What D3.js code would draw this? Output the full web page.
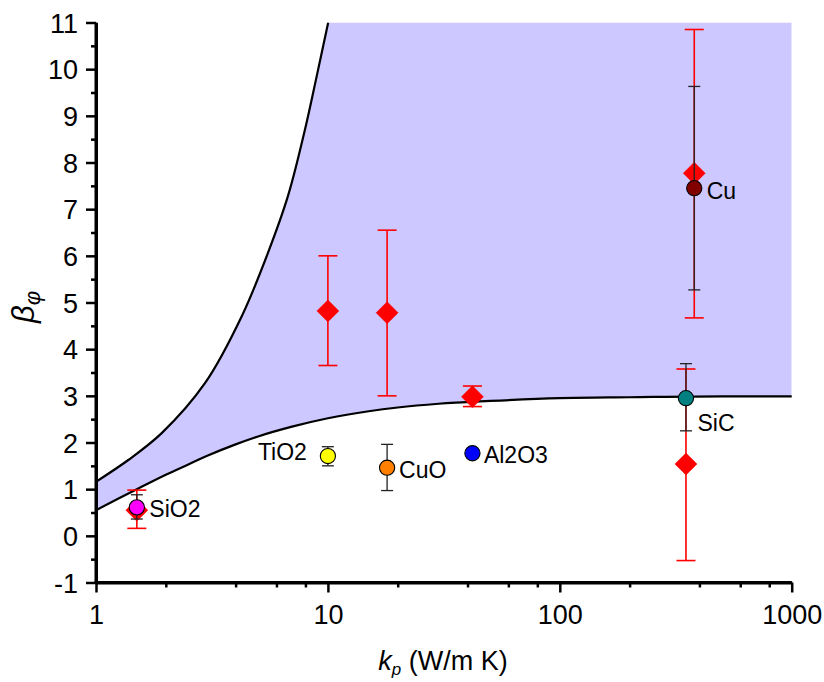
<!DOCTYPE html>
<html><head><meta charset="utf-8">
<script src="https://cdn.jsdelivr.net/npm/d3@7"></script>
<style>
body{margin:0;background:#fff}
svg{display:block}
text{font-family:"Liberation Sans",Arial,Helvetica,sans-serif;fill:#000}
</style>
</head><body>
<svg id="c" width="824" height="682"></svg>
<script>
// ---- data ----
const xTicks = [1, 10, 100, 1000];
const xTickLabels = ["1", "10", "100", "1000"];
const xMinor = [2,4,6,8,20,40,60,80,200,400,600,800];
const yTicks = [-1,0,1,2,3,4,5,6,7,8,9,10,11];
const yTickLabels = ["-1","0","1","2","3","4","5","6","7","8","9","10","11"];
const yMinor = [-0.5,0.5,1.5,2.5,3.5,4.5,5.5,6.5,7.5,8.5,9.5,10.5];

// lower bound curve
const lowerK = [1, 1.25, 1.5, 2, 2.5, 3, 4, 5, 7, 10, 15, 20, 30, 50, 100, 200, 500, 1000];
const lowerV = [0.55, 0.80, 1.00, 1.31, 1.53, 1.71, 1.96, 2.13, 2.34, 2.52, 2.67, 2.75, 2.83, 2.89, 2.95, 2.97, 2.99, 2.99];
// upper bound curve
const upperK = [1, 1.378, 1.92, 2.95, 4.246, 5.53, 6.744, 7.96, 8.94, 10.03];
const upperV = [1.16, 1.625, 2.20, 3.27, 4.70, 6.08, 7.30, 8.70, 9.84, 11.0];

// red diamonds with error bars
const redK  = [1.5, 10, 18, 42, 350, 380];
const redV  = [0.55, 4.82, 4.78, 2.98, 1.54, 7.77];
const redLo = [0.16, 3.65, 3.00, 2.77, -0.53, 4.67];
const redHi = [0.98, 6.00, 6.55, 3.21, 3.575, 10.85];

// materials (circles)
const matNames  = ["SiO2", "TiO2", "CuO", "Al2O3", "SiC", "Cu"];
const matK      = [1.5, 10, 18, 42, 350, 380];
const matV      = [0.61, 1.71, 1.46, 1.77, 2.95, 7.45];
const matLo     = [0.36, 1.50, 0.97, 1.69, 2.25, 5.27];
const matHi     = [0.88, 1.91, 1.96, 1.85, 3.69, 9.63];
const matColors = ["#ff00ff", "#ffff00", "#ff8000", "#0000ff", "#008080", "#800000"];

// label placement (style)
const labelPlace = [
  {dx: 12.5, dy: 9.5, anchor: "start"},
  {dx: -21, dy: 4, anchor: "end"},
  {dx: 12, dy: 10.5, anchor: "start"},
  {dx: 11.5, dy: 9.5, anchor: "start"},
  {dx: 11.5, dy: 32.5, anchor: "start"},
  {dx: 12.5, dy: 10.5, anchor: "start"}
];

// ---- chart ----
const svg = d3.select("#c");
const x = d3.scaleLog().domain([1, 1000]).range([96, 791.7]);
const y = d3.scaleLinear().domain([-1, 11]).range([582.5, 22.5]);

svg.append("defs").append("clipPath").attr("id","clip")
  .append("rect").attr("x",96).attr("y",22.5).attr("width",791.7-96).attr("height",560);

const lowerPts = lowerK.map((k,i)=>[x(k), y(lowerV[i])]);
const upperPts = upperK.map((k,i)=>[x(k), y(upperV[i])]);
const lowLine = d3.line().curve(d3.curveMonotoneX);
const upLine = d3.line().curve(d3.curveCatmullRom.alpha(0.5));

// shaded band
const upD = upLine(upperPts);
const loRev = lowerPts.slice().reverse();
const loD = d3.line().curve(d3.curveMonotoneX)(loRev).replace(/^M/, "L");
const bandD = upD + "L" + x(1000) + "," + y(11) + loD + "Z";
svg.append("path").attr("d", bandD).attr("fill", "#cdc8ff").attr("stroke","none")
  .attr("clip-path","url(#clip)");

svg.append("path").attr("d", upD).attr("fill","none").attr("stroke","#000").attr("stroke-width",2.2)
  .attr("clip-path","url(#clip)");
svg.append("path").attr("d", lowLine(lowerPts)).attr("fill","none").attr("stroke","#000").attr("stroke-width",2.2);

// axes
const tickFont = "27px";
const yAxis = d3.axisLeft(y).tickValues(yTicks).tickFormat((d,i)=>yTickLabels[i]).tickSize(10).tickSizeOuter(0).tickPadding(8);
const gy = svg.append("g").attr("transform","translate(96,0)").call(yAxis);
const yMin = d3.axisLeft(y).tickValues(yMinor).tickFormat("").tickSize(5).tickSizeOuter(0);
const gym = svg.append("g").attr("transform","translate(96,0)").call(yMin);

const xAxis = d3.axisBottom(x).tickValues(xTicks).tickFormat((d,i)=>xTickLabels[i]).tickSize(10).tickSizeOuter(0).tickPadding(12);
const gx = svg.append("g").attr("transform","translate(0,582.5)").call(xAxis);
const xMin = d3.axisBottom(x).tickValues(xMinor).tickFormat("").tickSize(5).tickSizeOuter(0);
const gxm = svg.append("g").attr("transform","translate(0,582.5)").call(xMin);

[gy, gym, gx, gxm].forEach(g=>{
  g.select(".domain").attr("stroke","#000").attr("stroke-width",3);
  g.selectAll(".tick line").attr("stroke","#000").attr("stroke-width",2.5);
  g.selectAll(".tick text").style("font-size", tickFont).attr("font-family",null);
});
gy.selectAll(".tick text").attr("dy","0.36em");
gx.selectAll(".tick text").attr("dy","0.72em");
gy.select(".domain").attr("d", `M0,${y(11)}V${y(-1)+1.5}`);
gx.select(".domain").attr("d", `M${x(1)-1.5},0H${x(1000)}`);

// red error bars
const redG = svg.append("g");
redK.forEach((k,i)=>{
  const cx = x(k);
  redG.append("line").attr("x1",cx).attr("x2",cx).attr("y1",y(redLo[i])).attr("y2",y(redHi[i]))
    .attr("stroke","#ff0000").attr("stroke-width",1.6);
  [redLo[i], redHi[i]].forEach(v=>{
    redG.append("line").attr("x1",cx-9.5).attr("x2",cx+9.5).attr("y1",y(v)).attr("y2",y(v))
      .attr("stroke","#ff0000").attr("stroke-width",1.6);
  });
});
// red diamonds
redK.forEach((k,i)=>{
  const cx = x(k), cy = y(redV[i]);
  redG.append("path").attr("d", `M${cx},${cy-11}L${cx+11},${cy}L${cx},${cy+11}L${cx-11},${cy}Z`)
    .attr("fill","#ff0000").attr("stroke","#ff0000").attr("stroke-width",0.5);
});

// black error bars
const matG = svg.append("g");
matK.forEach((k,i)=>{
  const cx = x(k);
  matG.append("line").attr("x1",cx).attr("x2",cx).attr("y1",y(matLo[i])).attr("y2",y(matHi[i]))
    .attr("stroke","#222").attr("stroke-width",1.3);
  [matLo[i], matHi[i]].forEach(v=>{
    matG.append("line").attr("x1",cx-6).attr("x2",cx+6).attr("y1",y(v)).attr("y2",y(v))
      .attr("stroke","#222").attr("stroke-width",1.3);
  });
});
// circles
matK.forEach((k,i)=>{
  matG.append("circle").attr("cx",x(k)).attr("cy",y(matV[i])).attr("r",7.6)
    .attr("fill",matColors[i]).attr("stroke","#000").attr("stroke-width",1.1);
});
// labels
matK.forEach((k,i)=>{
  const p = labelPlace[i];
  svg.append("text").attr("x",x(k)+p.dx).attr("y",y(matV[i])+p.dy)
    .attr("text-anchor",p.anchor).style("font-size","23px").text(matNames[i]);
});

// axis titles
const xt = svg.append("text").attr("x",443).attr("y",670).attr("text-anchor","middle").style("font-size","27px");
xt.append("tspan").style("font-style","italic").text("k");
xt.append("tspan").style("font-style","italic").style("font-size","17px").attr("dy","5").text("p");
xt.append("tspan").attr("dy","-5").text(" (W/m K)");

const yt = svg.append("text").attr("transform","translate(34,307) rotate(-90)").attr("text-anchor","middle").style("font-size","31px");
yt.append("tspan").style("font-style","italic").text("β");
yt.append("tspan").style("font-style","italic").style("font-size","22px").attr("dy","6").text("φ");
</script>
</body></html>
